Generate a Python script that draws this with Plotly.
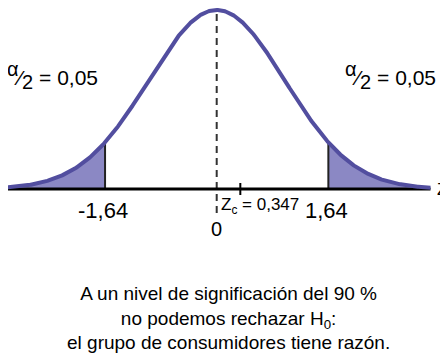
import numpy as np
import plotly.graph_objects as go

# data
z_crit = 1.64
z_calc = 0.347
alpha_half = "0,05"
z_min, z_max = -3.14, 3.14
tick_labels = ["-1,64", "0", "1,64"]
tick_values = [-1.64, 0.0, 1.64]

def pdf(z):
    return np.exp(-z**2 / 2) / np.sqrt(2 * np.pi)

z = np.linspace(z_min, z_max, 600)
y = pdf(z)

line_col = "#524e9f"
fill_col = "#8b88c4"

# pixel mapping of the reference (page has 8px body margin)
X0, XS = 216.7, 68.08          # px of z=0, px per unit
Y0, YS = 189.0, 0.3989 / 179   # px of pdf=0, pdf per px
def zx(p): return (p - X0) / XS
def py(p): return (Y0 - p) * YS

fig = go.Figure()

zl = np.linspace(z_min, -z_crit, 200)
fig.add_trace(go.Scatter(x=np.concatenate([zl, [-z_crit, z_min]]),
                         y=np.concatenate([pdf(zl), [0, 0]]),
                         fill="toself", fillcolor=fill_col, line=dict(width=0),
                         mode="lines", hoverinfo="skip"))
zr = np.linspace(z_crit, z_max, 200)
fig.add_trace(go.Scatter(x=np.concatenate([zr, [z_max, z_crit]]),
                         y=np.concatenate([pdf(zr), [0, 0]]),
                         fill="toself", fillcolor=fill_col, line=dict(width=0),
                         mode="lines", hoverinfo="skip"))

for zc in (-z_crit, z_crit):
    fig.add_trace(go.Scatter(x=[zc, zc], y=[0, pdf(zc)], mode="lines",
                             line=dict(color="#222222", width=2), hoverinfo="skip"))

fig.add_trace(go.Scatter(x=[0, 0], y=[py(213), pdf(0)], mode="lines",
                         line=dict(color="#333333", width=2, dash="7px,5px"), hoverinfo="skip"))

fig.add_trace(go.Scatter(x=[z_min, z_max], y=[0, 0], mode="lines",
                         line=dict(color="black", width=3), hoverinfo="skip"))

fig.add_trace(go.Scatter(x=[z_calc, z_calc], y=[py(195), py(183)], mode="lines",
                         line=dict(color="black", width=2), hoverinfo="skip"))

fig.add_trace(go.Scatter(x=z, y=y, mode="lines",
                         line=dict(color=line_col, width=4), hoverinfo="skip"))

font = dict(family="Liberation Sans, Arial, sans-serif", color="black")

anns = []
for txt, xv in zip(tick_labels, tick_values):
    if txt == "0":
        anns.append(dict(x=xv, y=py(229), text=txt, showarrow=False, xanchor="center",
                         yanchor="middle", font=dict(size=20, **font)))
    else:
        anns.append(dict(x=xv - 0.03, y=py(210), text=txt, showarrow=False, xanchor="center",
                         yanchor="middle", font=dict(size=22, **font)))
anns.append(dict(x=zx(219), y=py(206), text="Z<sub>c</sub> = 0,347", showarrow=False,
                 xanchor="left", yanchor="middle", font=dict(size=17, **font)))
anns.append(dict(x=zx(435), y=py(189), text="Z", showarrow=False, xanchor="left",
                 yanchor="middle", font=dict(size=17, **font)))
frac = ("<sup><span style='font-size:20px'>α</span></sup>⁄"
        "<sub><span style='font-size:20px'>2</span></sub> = " + alpha_half)
anns.append(dict(x=zx(52), y=py(75), text=frac, showarrow=False, xanchor="center",
                 yanchor="middle", font=dict(size=21, **font)))
anns.append(dict(x=zx(390), y=py(75), text=frac, showarrow=False, xanchor="center",
                 yanchor="middle", font=dict(size=21, **font)))
anns.append(dict(x=0.5, y=1 - (318 - 8) / 352, xref="paper", yref="paper",
                 text="A un nivel de significación del 90 %<br>no podemos rechazar H<sub>0</sub>:<br>el grupo de consumidores tiene razón.",
                 showarrow=False, xanchor="center", yanchor="middle", align="center",
                 font=dict(size=19, **font)))

fig.update_layout(
    width=440, height=352, margin=dict(l=0, r=0, t=0, b=0),
    paper_bgcolor="white", plot_bgcolor="white", showlegend=False,
    xaxis=dict(range=[zx(8), zx(448)], visible=False, fixedrange=True),
    yaxis=dict(range=[py(360), py(8)], visible=False, fixedrange=True),
    annotations=anns,
)
fig.write_html("out.html")
